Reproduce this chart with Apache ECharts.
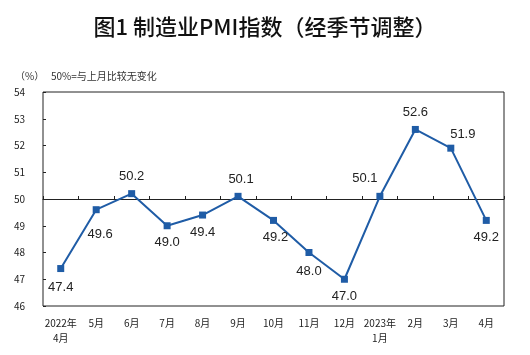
<!DOCTYPE html>
<html><head><meta charset="utf-8">
<script src="https://cdn.jsdelivr.net/npm/echarts@6/dist/echarts.min.js"></script>
<style>html,body{margin:0;padding:0;background:#fff}#c{width:530px;height:355px}</style>
</head><body><div id="c"></div>
<script>
const categories = ['2022年\n4月','5月','6月','7月','8月','9月','10月','11月','12月','2023年\n1月','2月','3月','4月'];
const pmiValues = [47.4, 49.6, 50.2, 49.0, 49.4, 50.1, 49.2, 48.0, 47.0, 50.1, 52.6, 51.9, 49.2];
const labelPlacement = ['bottom','bottom','top','bottom','bottom','top','bottom','bottom','bottom','top','top','top','bottom'];
const labelShift = [[0,2],[4,8],[0,0],[0,0],[0,0],[3,0],[2,0],[0,2],[0,0],[-15,-1],[0,0],[12,3],[0,0]];
const yTicks = [46,47,48,49,50,51,52,53,54];

const chart = echarts.init(document.getElementById('c'));
const font = '"Noto Sans CJK SC", "Noto Sans", sans-serif';
chart.setOption({
  animation: false,
  backgroundColor: '#fff',
  title: [
    {text: '图1 制造业PMI指数（经季节调整）', left: 'center', top: 11,
     textStyle: {fontFamily: font, fontSize: 22, fontWeight: 500, color: '#111'}},
    {text: '（%）   50%=与上月比较无变化', left: 10, top: 66,
     textStyle: {fontFamily: font, fontSize: 10, fontWeight: 'normal', color: '#333'}}
  ],
  grid: {left: 43, right: 26, top: 92, bottom: 49, show: true, borderColor: '#222', borderWidth: 1},
  xAxis: [
    {type: 'category', data: categories, boundaryGap: true,
     axisLine: {show: false}, axisTick: {show: false},
     axisLabel: {interval: 0, margin: 10, fontSize: 10, lineHeight: 15, color: '#222', fontFamily: font}},
    {type: 'category', data: categories, boundaryGap: true, position: 'bottom', offset: -107,
     axisLine: {show: true, lineStyle: {color: '#222', width: 1}},
     axisTick: {show: true, inside: true, length: 3, interval: 0, lineStyle: {color: '#222'}},
     axisLabel: {show: false}}
  ],
  yAxis: {type: 'value', min: yTicks[0], max: yTicks[yTicks.length-1], interval: 1,
    axisLine: {show: false}, splitLine: {show: false},
    axisTick: {show: true, inside: true, length: 3, lineStyle: {color: '#222'}},
    axisLabel: {margin: 18, fontSize: 10, color: '#222', fontFamily: font}},
  series: [{
    type: 'line', xAxisIndex: 0,
    data: pmiValues.map((v, i) => ({value: v, label: {position: labelPlacement[i], offset: labelShift[i]}})),
    symbol: 'rect', symbolSize: 7,
    lineStyle: {color: '#1f5ca6', width: 2},
    itemStyle: {color: '#1f5ca6'},
    label: {show: true, fontSize: 13, color: '#222', distance: 7, fontFamily: 'Liberation Sans, Arial, sans-serif',
      formatter: p => p.value.toFixed(1)}
  }]
});
</script></body></html>
